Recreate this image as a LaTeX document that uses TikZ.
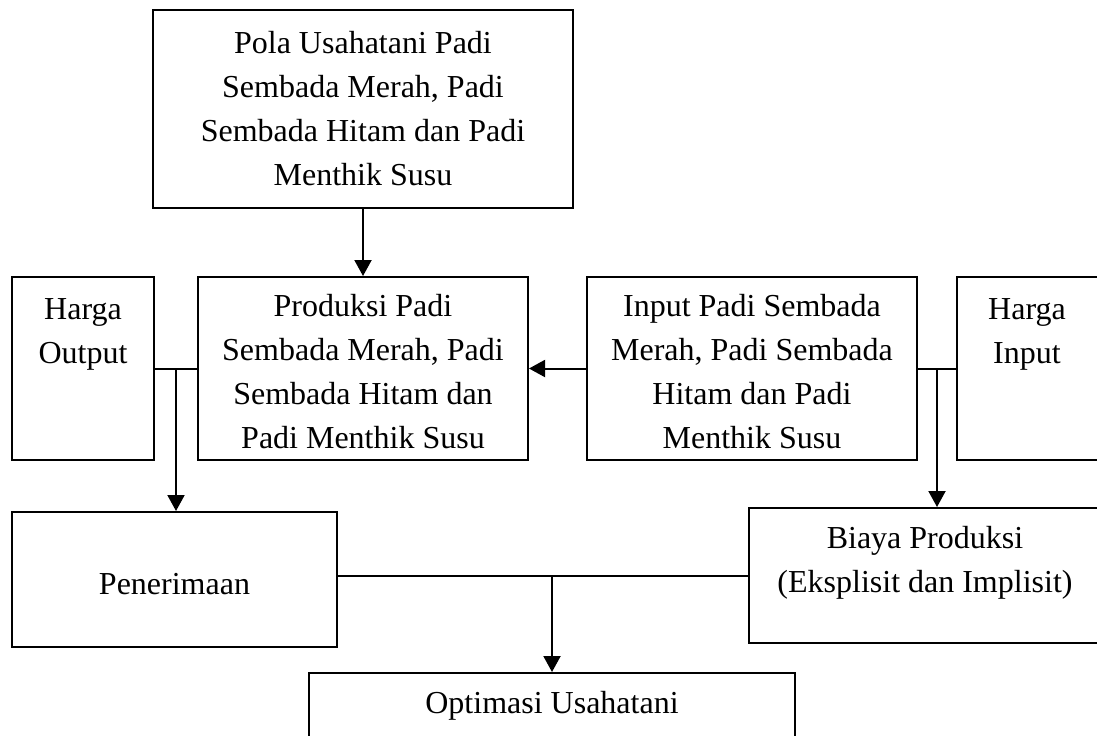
\documentclass[tikz,border=0pt]{standalone}
\usepackage{fontspec}
\setmainfont{Liberation Serif}
\usetikzlibrary{arrows.meta,calc}
\begin{document}
\begin{tikzpicture}[x=0.5pt,y=-0.5pt,
  box/.style={draw=black, line width=1pt, rectangle, inner sep=0pt},
  txt/.style={align=center, inner sep=0pt, font=\fontsize{16}{22}\selectfont},
  arr/.style={line width=1pt, -{Triangle[length=8pt,width=8.5pt]}},
  ln/.style={line width=1pt}]
\clip (0,0) rectangle (1097,735);
\fill[white] (0,0) rectangle (1097,735);

% boxes
\node[box, minimum width=210pt, minimum height=99pt] (pola) at (363,109) {};
\node[box, minimum width=71pt, minimum height=91.5pt] (ho) at (83,368.5) {};
\node[box, minimum width=165pt, minimum height=91.5pt] (prod) at (363,368.5) {};
\node[box, minimum width=165pt, minimum height=91.5pt] (inp) at (752,368.5) {};
\node[box, minimum width=71.5pt, minimum height=91.5pt] (hi) at (1028.5,368.5) {};
\node[box, minimum width=162.5pt, minimum height=67.5pt] (pen) at (174.5,579.5) {};
\node[box, minimum width=176pt, minimum height=67.5pt] (bia) at (925,575.5) {};
\node[box, minimum width=243pt, minimum height=53.5pt] (opt) at (552,726.5) {};

% texts
\node[txt] (tpola) at (pola) {Pola Usahatani Padi\\Sembada Merah, Padi\\Sembada Hitam dan Padi\\Menthik Susu};
\node[txt] (tprod) at ($(prod)+(0,3)$) {Produksi Padi\\Sembada Merah, Padi\\Sembada Hitam dan\\Padi Menthik Susu};
\node[txt] (tinp) at ($(inp)+(0,3)$) {Input Padi Sembada\\Merah, Padi Sembada\\Hitam dan Padi\\Menthik Susu};
\node[txt, anchor=north] (tho) at ($(ho.north)+(0,22)$) {Harga\\Output};
\node[txt, anchor=north] (thi) at ($(hi.north)+(-1.5,22)$) {Harga\\Input};
\node[txt] (tpen) at ($(pen)+(0,5)$) {Penerimaan};
\node[txt, anchor=north] (tbia) at ($(bia.north)+(0,19)$) {Biaya Produksi\\(Eksplisit dan Implisit)};
\node[txt, anchor=north] (topt) at ($(opt.north)+(0,19)$) {Optimasi Usahatani};

% connectors
\draw[arr] (pola.south) -- (prod.north);
\draw[arr] (inp.west) -- (prod.east);
\draw[ln] (ho.east) -- (prod.west);
\coordinate (j1) at ($(ho.east)!0.5!(prod.west)$);
\draw[arr] (j1) -- (j1 |- pen.north);
\draw[ln] (inp.east) -- (hi.west);
\coordinate (j2) at ($(inp.east)!0.5!(hi.west)$);
\draw[arr] (j2) -- (j2 |- bia.north);
\coordinate (pe) at (pen.east |- bia.west);
\draw[ln] (pe) -- (bia.west);
\coordinate (j3) at (opt.north |- bia.west);
\draw[arr] (j3) -- (opt.north);
\end{tikzpicture}
\end{document}
